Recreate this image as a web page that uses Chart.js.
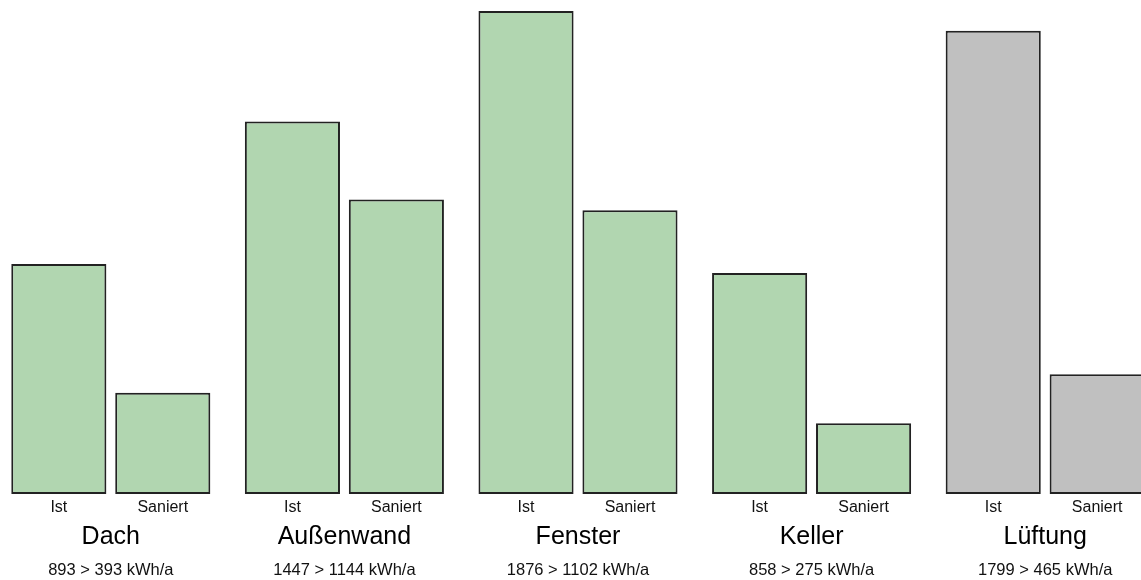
<!DOCTYPE html>
<html lang="de">
<head>
<meta charset="utf-8">
<title>Energieverluste Ist / Saniert</title>
<script src="https://cdn.jsdelivr.net/npm/chart.js@4/dist/chart.umd.min.js"></script>
<style>
  html, body { margin: 0; padding: 0; background: #ffffff; overflow: hidden; }
  #wrap { position: absolute; left: -6px; top: 0; width: 1168px; height: 580px; }
</style>
</head>
<body>
<div id="wrap"><canvas id="chart"></canvas></div>
<script>
// Bauteile und Verluste in kWh/a
const categories = ['Dach', 'Außenwand', 'Fenster', 'Keller', 'Lüftung'];
const seriesLabels = ['Ist', 'Saniert'];
const istValues = [893, 1447, 1876, 858, 1799];
const saniertValues = [393, 1144, 1102, 275, 465];
const unit = 'kWh/a';

const green = '#b1d6b0';
const grey = '#c0c0c0';
const barColors = categories.map(c => c === 'Lüftung' ? grey : green);

const FONT = '"Liberation Sans", Arial, sans-serif';

// Beschriftung unter den Balken: Ist/Saniert, Bauteilname, Verlustangabe
const bottomLabels = {
  id: 'bottomLabels',
  afterDatasetsDraw(chart) {
    const ctx = chart.ctx;
    const xScale = chart.scales.x;
    ctx.save();
    ctx.textAlign = 'center';
    ctx.textBaseline = 'middle';
    ctx.fillStyle = '#111';
    ctx.font = '16px ' + FONT;
    chart.data.datasets.forEach((ds, di) => {
      chart.getDatasetMeta(di).data.forEach(bar => {
        ctx.fillText(ds.label, bar.x, 508);
      });
    });
    categories.forEach((name, i) => {
      const cx = xScale.getPixelForValue(i);
      ctx.fillStyle = '#000';
      ctx.font = '25px ' + FONT;
      ctx.fillText(name, cx, 537);
      ctx.fillStyle = '#111';
      ctx.font = '16.5px ' + FONT;
      ctx.fillText(istValues[i] + ' > ' + saniertValues[i] + ' ' + unit, cx, 570);
    });
    ctx.restore();
  }
};

new Chart(document.getElementById('chart'), {
  type: 'bar',
  data: {
    labels: categories,
    datasets: [
      { label: seriesLabels[0], data: istValues, backgroundColor: barColors,
        borderColor: '#222', borderWidth: 2, borderSkipped: false },
      { label: seriesLabels[1], data: saniertValues, backgroundColor: barColors,
        borderColor: '#222', borderWidth: 2, borderSkipped: false }
    ]
  },
  options: {
    responsive: true,
    maintainAspectRatio: false,
    animation: false,
    layout: { padding: { top: 11, bottom: 86, left: 0, right: 0 } },
    categoryPercentage: 0.89,
    barPercentage: 0.915,
    plugins: { legend: { display: false }, tooltip: { enabled: false } },
    scales: {
      x: { display: false },
      y: { display: false, min: 0, max: Math.max(...istValues, ...saniertValues) }
    }
  },
  plugins: [bottomLabels]
});
</script>
</body>
</html>
